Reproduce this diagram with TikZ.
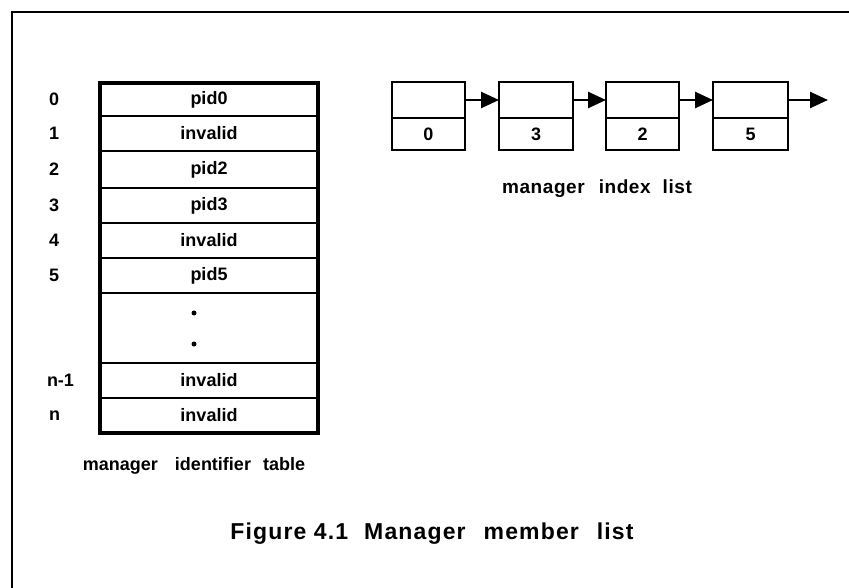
\documentclass[tikz,border=0pt]{standalone}
\usepackage{fontspec}
\setmainfont{Liberation Sans}
\usetikzlibrary{arrows.meta}
\tikzset{
  txt/.style={font=\fontsize{18}{20}\selectfont\bfseries, inner sep=0pt, outer sep=0pt},
  rowbox/.style={txt, draw, line width=2.4pt, minimum width=218pt, anchor=north west},
  cell/.style={txt, draw, line width=2.6pt, anchor=north west},
  idx/.style={txt, anchor=west},
  link/.style={line width=2.6pt, -{Triangle[length=18pt,width=16pt]}},
  dotmark/.style={circle, fill, inner sep=0pt, minimum size=5pt}
}
\begin{document}
\begin{tikzpicture}[x=1pt,y=-1pt]
\useasboundingbox (0,0) rectangle (849,588);
\fill[white] (0,0) rectangle (849,588);
% frame
\coordinate (fbl) at (12,590);
\coordinate (ftl) at (12,12);
\coordinate (ftr) at (851,12);
\draw[line width=2.8pt] (fbl) -- (ftl) -- (ftr);
% table rows
\node[rowbox, minimum height=33pt] (r0) at (100,83) {pid0};
\node[rowbox, minimum height=35pt] (r1) at (100,116) {invalid};
\node[rowbox, minimum height=37pt] (r2) at (100,151) {pid2};
\node[rowbox, minimum height=35pt] (r3) at (100,188) {pid3};
\node[rowbox, minimum height=35pt] (r4) at (100,223) {invalid};
\node[rowbox, minimum height=35pt] (r5) at (100,258) {pid5};
\node[rowbox, minimum height=70pt] (rd) at (100,293) {};
\node[rowbox, minimum height=35pt] (rn1) at (100,363) {invalid};
\node[rowbox, minimum height=35pt] (rn) at (100,398) {invalid};
\draw[line width=3.2pt] (r0.north west) rectangle (rn.south east);
\node[dotmark] (d1) at (194,313) {};
\node[dotmark] (d2) at (194,344) {};
% index labels
\node[idx] (l0) at (49,99.5) {0};
\node[idx] (l1) at (49,133.5) {1};
\node[idx] (l2) at (49,169.5) {2};
\node[idx] (l3) at (49,205.5) {3};
\node[idx] (l4) at (49,240.5) {4};
\node[idx] (l5) at (49,275.5) {5};
\node[idx] (ln1) at (47,380.5) {n-1};
\node[idx] (ln) at (49,415.5) {n};
\node[txt] (tcap) at (194,466) {manager\hspace{17pt}identifier\hspace{12pt}table};
% list boxes
\node[cell, minimum width=73pt, minimum height=36pt] (a1) at (392,82) {};
\node[cell, minimum width=73pt, minimum height=32pt] (b1) at (392,118) {0};
\node[cell, minimum width=74pt, minimum height=36pt] (a2) at (499,82) {};
\node[cell, minimum width=74pt, minimum height=32pt] (b2) at (499,118) {3};
\node[cell, minimum width=73pt, minimum height=36pt] (a3) at (606,82) {};
\node[cell, minimum width=73pt, minimum height=32pt] (b3) at (606,118) {2};
\node[cell, minimum width=75pt, minimum height=36pt] (a4) at (713,82) {};
\node[cell, minimum width=75pt, minimum height=32pt] (b4) at (713,118) {5};
\coordinate (aend) at (828,100);
\draw[link] (a1.east) -- (a2.west);
\draw[link] (a2.east) -- (a3.west);
\draw[link] (a3.east) -- (a4.west);
\draw[link] (a4.east) -- (aend);
\node[txt, font=\fontsize{19}{21}\selectfont\bfseries\addfontfeatures{LetterSpace=3}] (lcap) at (597,189) {manager\hspace{14pt}index\hspace{12pt}list};
% figure caption
\node[txt, font=\fontsize{23}{25}\selectfont\bfseries\addfontfeatures{LetterSpace=5}] (fcap) at (432,534) {Figure 4.1\hspace{16pt}Manager\hspace{18pt}member\hspace{18pt}list};
\end{tikzpicture}
\end{document}
